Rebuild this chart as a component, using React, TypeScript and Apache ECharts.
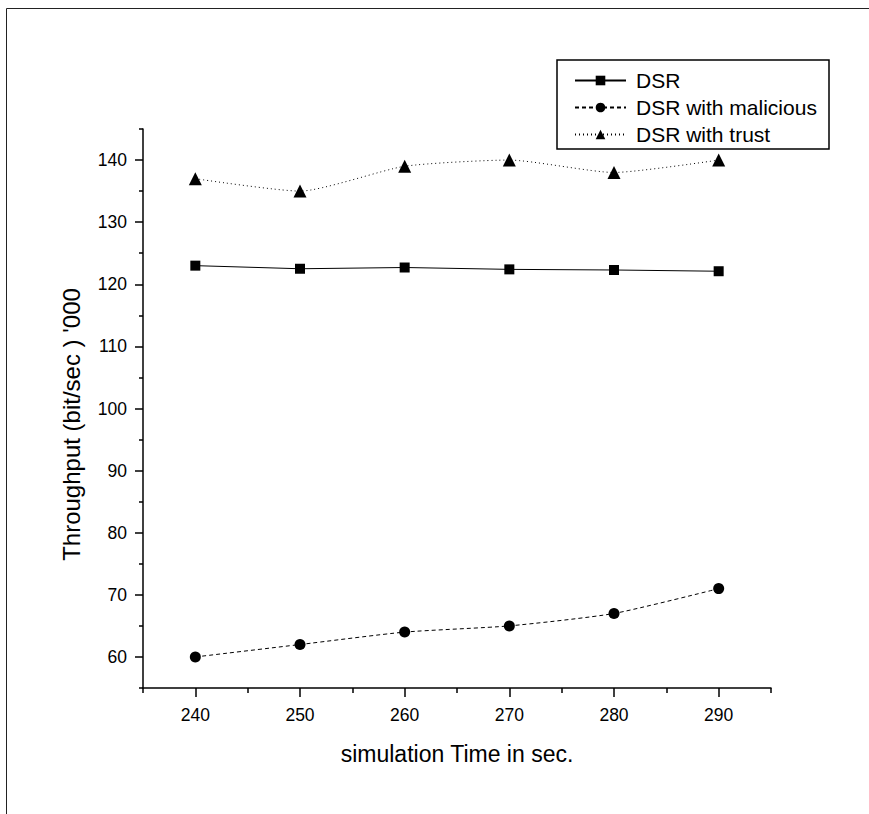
import React, { useEffect, useRef } from "react";
import * as echarts from "echarts";

const times = [240, 250, 260, 270, 280, 290];
const dsr = [123, 122.5, 122.7, 122.4, 122.3, 122.1];
const dsrMalicious = [60, 62, 64, 65, 67, 71];
const dsrTrust = [137, 135, 139, 140, 138, 140];
const seriesNames = ["DSR", "DSR with malicious", "DSR with trust"];
const xMajorTicks = [240, 250, 260, 270, 280, 290];
const xMinorTicks = [235, 245, 255, 265, 275, 285, 295];
const yMajorTicks = [60, 70, 80, 90, 100, 110, 120, 130, 140];
const yMinorTicks = [55, 65, 75, 85, 95, 105, 115, 125, 135, 145];
const xTitle = "simulation Time in sec.";
const yTitle = "Throughput (bit/sec ) '000";

const FONT = "'Liberation Sans', Arial, sans-serif";

export default function App() {
  const ref = useRef<HTMLDivElement>(null);
  useEffect(() => {
    document.body.style.margin = "0";
    if (!ref.current) return;
    const chart = echarts.init(ref.current, null, { renderer: "svg" });
    const pair = (vals: number[]) => times.map((t, i) => [t, vals[i]]);
    const axisLine = { show: true, onZero: false, lineStyle: { color: "#000", width: 1.5 } };
    chart.setOption({
      animation: false,
      backgroundColor: "#fff",
      textStyle: { fontFamily: FONT, color: "#000" },
      grid: { left: 143, top: 129, right: 98, bottom: 126, containLabel: false },
      xAxis: [
        {
          type: "value",
          position: "bottom",
          min: 235,
          max: 295,
          name: xTitle,
          nameLocation: "middle",
          nameGap: 54,
          nameTextStyle: { fontSize: 23, color: "#000", fontFamily: FONT },
          axisLine,
          axisTick: { show: true, customValues: xMajorTicks, length: 9, lineStyle: { color: "#000", width: 1.5 } },
          axisLabel: { customValues: xMajorTicks, margin: 18, fontSize: 17.5, color: "#000", fontFamily: FONT },
          splitLine: { show: false },
        },
        {
          type: "value",
          position: "bottom",
          min: 235,
          max: 295,
          axisLine: { show: false, onZero: false },
          axisTick: { show: true, customValues: xMinorTicks, length: 5, lineStyle: { color: "#000", width: 1.5 } },
          axisLabel: { show: false },
          splitLine: { show: false },
        },
      ],
      yAxis: [
        {
          type: "value",
          position: "left",
          min: 55,
          max: 145,
          name: yTitle,
          nameLocation: "middle",
          nameGap: 60,
          nameTextStyle: { fontSize: 24, color: "#000", fontFamily: FONT, padding: [0, 32, 0, 0] },
          axisLine,
          axisTick: { show: true, customValues: yMajorTicks, length: 8, lineStyle: { color: "#000", width: 1.5 } },
          axisLabel: { customValues: yMajorTicks, margin: 16, fontSize: 17.5, color: "#000", fontFamily: FONT },
          splitLine: { show: false },
        },
        {
          type: "value",
          position: "left",
          min: 55,
          max: 145,
          axisLine: { show: false, onZero: false },
          axisTick: { show: true, customValues: yMinorTicks, length: 4, lineStyle: { color: "#000", width: 1.5 } },
          axisLabel: { show: false },
          splitLine: { show: false },
        },
      ],
      legend: {
        orient: "vertical",
        left: 574,
        top: 70,
        padding: 0,
        itemWidth: 51,
        itemHeight: 12,
        itemGap: 6,
        data: seriesNames,
        textStyle: { fontSize: 21, lineHeight: 20, color: "#000", fontFamily: FONT, padding: [0, 0, 0, 5] },
      },
      graphic: [
        { type: "line", shape: { x1: 6.5, y1: 8.5, x2: 869, y2: 8.5 }, style: { stroke: "#222", lineWidth: 1 } },
        { type: "line", shape: { x1: 6.5, y1: 8.5, x2: 6.5, y2: 814 }, style: { stroke: "#222", lineWidth: 1 } },
        { type: "rect", shape: { x: 557, y: 60, width: 272, height: 89 }, style: { fill: "none", stroke: "#000", lineWidth: 1.5 } },
      ],
      series: [
        {
          name: seriesNames[0],
          type: "line",
          data: pair(dsr),
          symbol: "rect",
          symbolSize: 10,
          itemStyle: { color: "#000" },
          lineStyle: { color: "#000", width: 1, type: "solid" },
        },
        {
          name: seriesNames[1],
          type: "line",
          data: pair(dsrMalicious),
          symbol: "circle",
          symbolSize: 11,
          smooth: 0.2,
          itemStyle: { color: "#000" },
          lineStyle: { color: "#000", width: 1, type: [4, 3] },
        },
        {
          name: seriesNames[2],
          type: "line",
          data: pair(dsrTrust),
          symbol: "triangle",
          symbolSize: 13,
          smooth: 0.2,
          itemStyle: { color: "#000" },
          lineStyle: { color: "#000", width: 1, type: [1, 3] },
        },
      ],
    });
    return () => chart.dispose();
  }, []);
  return <div ref={ref} style={{ width: 869, height: 814 }} />;
}
